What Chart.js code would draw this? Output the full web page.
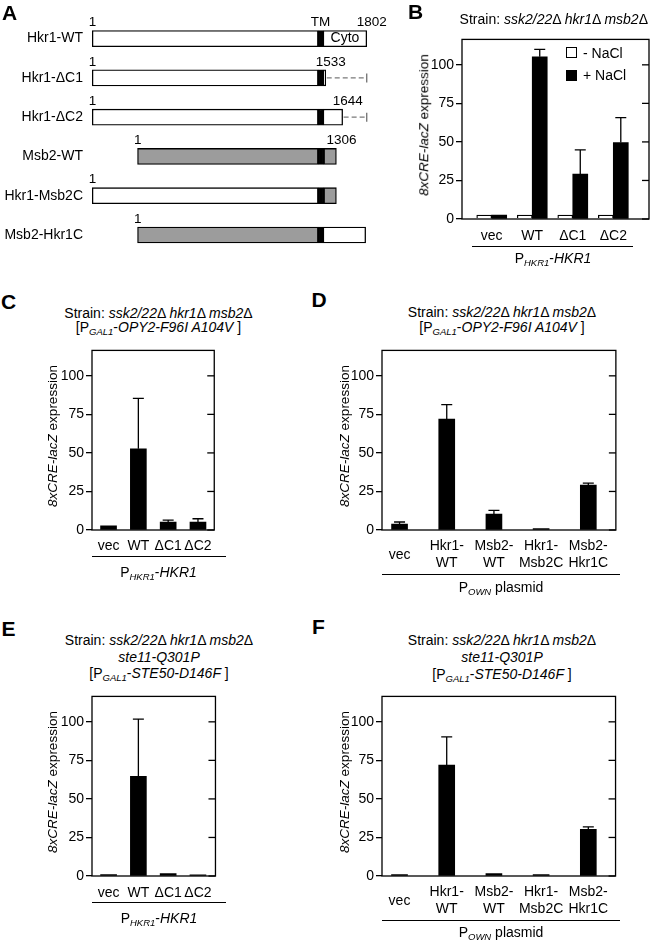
<!DOCTYPE html>
<html>
<head>
<meta charset="utf-8">
<script src="https://cdn.jsdelivr.net/npm/chart.js@4.4.1/dist/chart.umd.min.js"></script>
<style>
  body { margin: 0; background: #fff; }
  #page { position: relative; width: 650px; height: 942px; overflow: hidden; font-family: "Liberation Sans", Arial, Helvetica, sans-serif; color: #000; }
  #page canvas { position: absolute; }
  .t { position: absolute; white-space: nowrap; font-size: 14px; line-height: 1.15; transform: translate(-50%, -50%); }
  .t sub { font-size: 9.5px; font-style: italic; vertical-align: baseline; position: relative; top: 3px; }
  .yt { transform: translate(-50%, -50%) rotate(-90deg); font-size: 13.5px; }
  .letter { font-weight: bold; font-size: 21px; }
  .rule { position: absolute; height: 0; border-top: 1.3px solid #000; }
  .leg { position: absolute; font-size: 14px; line-height: 1.15; transform: translateY(-50%); white-space: nowrap; }
  .sw { position: absolute; width: 11px; height: 11px; box-sizing: border-box; border: 1.3px solid #000; }
</style>
</head>
<body>
<div id="page"></div>
<script>
// ---- data ----
const yTicks = [0, 25, 50, 75, 100];
const yMax = 116.5;

// A: domain map, aligned on the TM (Msb2 residues shifted by 297)
const constructs = ['Hkr1-WT', 'Hkr1-ΔC1', 'Hkr1-ΔC2', 'Msb2-WT', 'Hkr1-Msb2C', 'Msb2-Hkr1C'];
const nSeg  = [[1, 1483], [1, 1483], [1, 1483], [298, 1483], [1, 1483], [298, 1483]];
const tmSeg = [[1483, 1516], [1483, 1516], [1483, 1516], [1483, 1521], [1483, 1521], [1483, 1516]];
const cSeg  = [[1516, 1802], [1516, 1533], [1516, 1644], [1521, 1603], [1521, 1603], [1516, 1795]];
const nOrigin = ['Hkr1', 'Hkr1', 'Hkr1', 'Msb2', 'Hkr1', 'Msb2'];
const cOrigin = ['Hkr1', 'Hkr1', 'Hkr1', 'Msb2', 'Msb2', 'Hkr1'];
const endLabels = ['1802', '1533', '1644', '1306', '', ''];
const deleted = [null, [1533, 1802], [1644, 1802], null, null, null];

// B
const catsB = ['vec', 'WT', 'ΔC1', 'ΔC2'];
const minusNaClB = [2.5, 2.5, 2.5, 2.5];
const plusNaClB = [2.5, 105.2, 29.2, 49.6];
const plusNaClSdB = [0, 4.8, 15.6, 16.1];

// C
const catsC = ['vec', 'WT', 'ΔC1', 'ΔC2'];
const valsC = [2.7, 52.7, 5.2, 5.2];
const sdC = [0, 32.7, 1.2, 2.1];

// D
const catsD = [['vec'], ['Hkr1-', 'WT'], ['Msb2-', 'WT'], ['Hkr1-', 'Msb2C'], ['Msb2-', 'Hkr1C']];
const valsD = [3.8, 71.9, 10.4, 1.0, 29.1];
const sdD = [1.4, 9.4, 2.3, 0, 1.3];

// E
const catsE = ['vec', 'WT', 'ΔC1', 'ΔC2'];
const valsE = [1.0, 64.6, 1.5, 0.8];
const sdE = [0, 37.1, 0, 0];

// F
const catsF = [['vec'], ['Hkr1-', 'WT'], ['Msb2-', 'WT'], ['Hkr1-', 'Msb2C'], ['Msb2-', 'Hkr1C']];
const valsF = [1.0, 71.9, 1.5, 0.9, 30.2];
const sdF = [0, 18.3, 0, 0, 1.7];

// ---- helpers ----
const FONT = '"Liberation Sans", Arial, Helvetica, sans-serif';
Chart.defaults.font.family = FONT;
Chart.defaults.color = '#000';
const page = document.getElementById('page');
const GRAY = '#9c9c9c';

function txt(html, x, y, cls) {
  const d = document.createElement('div');
  d.className = 't' + (cls ? ' ' + cls : '');
  d.style.left = x + 'px';
  d.style.top = y + 'px';
  d.innerHTML = html;
  page.appendChild(d);
  return d;
}
function rule(x1, x2, y) {
  const d = document.createElement('div');
  d.className = 'rule';
  d.style.left = x1 + 'px'; d.style.top = y + 'px'; d.style.width = (x2 - x1) + 'px';
  page.appendChild(d);
}
function canvasAt(l, t, w, h) {
  const cv = document.createElement('canvas');
  cv.width = w; cv.height = h;
  cv.style.left = l + 'px'; cv.style.top = t + 'px';
  cv.style.width = w + 'px'; cv.style.height = h + 'px';
  page.appendChild(cv);
  return cv;
}

// box + inner ticks on the right side
const framePlugin = {
  id: 'frame',
  afterDraw(chart) {
    const { ctx, chartArea: a, scales: { y } } = chart;
    ctx.save();
    ctx.strokeStyle = '#000'; ctx.lineWidth = 1.3;
    ctx.strokeRect(a.left, a.top, a.right - a.left, a.bottom - a.top);
    y.ticks.forEach(t => {
      const py = y.getPixelForValue(t.value);
      ctx.beginPath(); ctx.moveTo(a.right - 7, py); ctx.lineTo(a.right, py); ctx.stroke();
    });
    ctx.restore();
  }
};

// one-sided error bars (sd stored on the dataset)
const errPlugin = {
  id: 'err',
  afterDatasetsDraw(chart) {
    const { ctx, scales: { y } } = chart;
    ctx.save();
    ctx.strokeStyle = '#000'; ctx.lineWidth = 1.3;
    chart.data.datasets.forEach((ds, di) => {
      if (!ds.sd) return;
      chart.getDatasetMeta(di).data.forEach((bar, i) => {
        const s = ds.sd[i];
        if (!s) return;
        const top = y.getPixelForValue(ds.data[i].y + s);
        ctx.beginPath();
        ctx.moveTo(bar.x, bar.y); ctx.lineTo(bar.x, top);
        ctx.moveTo(bar.x - 5.5, top); ctx.lineTo(bar.x + 5.5, top);
        ctx.stroke();
      });
    });
    ctx.restore();
  }
};

function barPanel(frame, cats, datasets, xRange, xh, pad) {
  const AXW = 40, PT = 3, PR = 3;
  const w = AXW + (frame.r - frame.l) + PR;
  const h = PT + (frame.b - frame.t) + xh;
  const cv = canvasAt(frame.l - AXW, frame.t - PT, w, h);
  return new Chart(cv, {
    type: 'bar',
    data: { datasets },
    options: {
      responsive: false, animation: false, devicePixelRatio: 1,
      layout: { padding: { top: PT, right: PR, left: 0, bottom: 0 } },
      plugins: { legend: { display: false }, tooltip: { enabled: false } },
      scales: {
        x: {
          type: 'linear', min: xRange[0], max: xRange[1], offset: false,
          afterFit: s => { s.height = xh; },
          afterBuildTicks: s => { s.ticks = cats.map((c, i) => ({ value: i + 1 })); },
          ticks: {
            callback: v => cats[Math.round(v) - 1],
            font: { size: 14, lineHeight: 1.19 }, color: '#000', padding: pad,
            maxRotation: 0, minRotation: 0, autoSkip: false, crossAlign: 'center'
          },
          grid: { display: false, drawTicks: false },
          border: { display: false }
        },
        y: {
          min: 0, max: yMax,
          afterFit: s => { s.width = AXW; },
          afterBuildTicks: s => { s.ticks = yTicks.map(v => ({ value: v })); },
          ticks: { callback: v => String(v), font: { size: 14 }, color: '#000', padding: 2 },
          grid: { drawOnChartArea: false, drawTicks: true, tickLength: 6, color: '#000', lineWidth: 1.3 },
          border: { display: false }
        }
      }
    },
    plugins: [framePlugin, errPlugin]
  });
}
const pts = vals => vals.map((v, i) => ({ x: i + 1, y: v }));
const blackSet = (vals, sd, thick) => ({ data: pts(vals), sd, backgroundColor: '#000', borderWidth: 0, barThickness: thick });

// ---- panel A ----
const schemePlugin = {
  id: 'scheme',
  afterDatasetsDraw(chart) {
    const { ctx, scales: { x, y } } = chart;
    ctx.save();
    ctx.fillStyle = '#000';
    ctx.font = '13.5px ' + FONT;
    ctx.textBaseline = 'middle';
    constructs.forEach((c, i) => {
      const cy = y.getPixelForValue(i);
      const ly = cy - 16;
      ctx.textAlign = 'left';
      ctx.fillText('1', x.getPixelForValue(nSeg[i][0]) - 3.5, ly);
      if (endLabels[i]) ctx.fillText(endLabels[i], x.getPixelForValue(cSeg[i][1]) - 10, ly);
      if (deleted[i]) {
        const x1 = x.getPixelForValue(deleted[i][0]), x2 = x.getPixelForValue(deleted[i][1]);
        ctx.save();
        ctx.strokeStyle = '#7a7a7a'; ctx.lineWidth = 1.4;
        ctx.setLineDash([5, 3]);
        ctx.beginPath(); ctx.moveTo(x1 + 1, cy); ctx.lineTo(x2, cy); ctx.stroke();
        ctx.setLineDash([]);
        ctx.beginPath(); ctx.moveTo(x2, cy - 4.5); ctx.lineTo(x2, cy + 4.5); ctx.stroke();
        ctx.restore();
      }
    });
    const cy0 = y.getPixelForValue(0);
    ctx.textAlign = 'center';
    ctx.fillText('TM', x.getPixelForValue((tmSeg[0][0] + tmSeg[0][1]) / 2), cy0 - 16);
    ctx.font = '14px ' + FONT;
    ctx.fillText('Cyto', x.getPixelForValue((cSeg[0][0] + cSeg[0][1]) / 2), cy0);
    ctx.restore();
  }
};
const fillOf = o => (o === 'Msb2' ? GRAY : '#fff');
const segSet = (seg, colors) => ({
  data: seg, backgroundColor: colors, borderColor: '#000', borderWidth: 1.3,
  borderSkipped: false, barThickness: 16, grouped: false
});
new Chart(canvasAt(0, 0, 390, 266), {
  type: 'bar',
  data: {
    labels: constructs,
    datasets: [
      segSet(nSeg, nOrigin.map(fillOf)),
      segSet(cSeg, cOrigin.map(fillOf)),
      segSet(tmSeg, constructs.map(() => '#000'))
    ]
  },
  options: {
    indexAxis: 'y', responsive: false, animation: false, devicePixelRatio: 1,
    layout: { padding: { top: 19, bottom: 6, left: 0, right: 0 } },
    plugins: { legend: { display: false }, tooltip: { enabled: false } },
    scales: {
      x: { type: 'linear', min: -40.35, max: 1954.9, display: false },
      y: {
        afterFit: s => { s.width = 86; },
        ticks: { font: { size: 14 }, color: '#000', padding: 3 },
        grid: { display: false, drawTicks: false },
        border: { display: false }
      }
    }
  },
  plugins: [schemePlugin]
});

// ---- panel B ----
barPanel({ l: 462, r: 649, t: 32, b: 219 }, catsB, [
  { data: pts(minusNaClB), backgroundColor: '#fff', borderColor: '#000', borderWidth: 1.3, barThickness: 15 },
  blackSet(plusNaClB, plusNaClSdB, 15)
], [0.267, 4.881], 36, 17);

// ---- panels C-F ----
barPanel({ l: 92, r: 225, t: 343, b: 530 }, catsC, [blackSet(valsC, sdC, 16)], [0.445, 4.546], 36, 16);
barPanel({ l: 382, r: 622, t: 343, b: 530 }, catsD, [blackSet(valsD, sdD, 16)], [0.628, 5.584], 54, 16.5);
barPanel({ l: 92, r: 226, t: 689, b: 876 }, catsE, [blackSet(valsE, sdE, 16)], [0.443, 4.588], 36, 17);
barPanel({ l: 382, r: 622, t: 689, b: 876 }, catsF, [blackSet(valsF, sdF, 16)], [0.629, 5.577], 54, 16.5);

// ---- text ----
const strain = 'Strain: <i>ssk2/22</i>Δ <i>hkr1</i>Δ <i>msb2</i>Δ';
const yTitle = '<i>8xCRE-lacZ</i> expression';
const phkr1 = 'P<sub>HKR1</sub>-<i>HKR1</i>';
const pown = 'P<sub>OWN</sub> plasmid';
const opy2 = '[P<sub>GAL1</sub>-<i>OPY2-F96I A104V</i> ]';
const ste50 = '[P<sub>GAL1</sub>-<i>STE50-D146F</i> ]';
const ste11 = '<i>ste11-Q301P</i>';

txt('A', 9.5, 12.5, 'letter');
txt('B', 415.5, 11.5, 'letter');
txt('C', 8.5, 301.5, 'letter');
txt('D', 319, 299.5, 'letter');
txt('E', 8.5, 628.5, 'letter');
txt('F', 318.5, 627, 'letter');

// B
txt(strain, 553.8, 19);
txt(yTitle, 424, 125, 'yt');
rule(472, 633, 246);
txt(phkr1, 553, 258);
const legItems = [['- NaCl', '#fff', 52.5], ['+ NaCl', '#000', 75]];
legItems.forEach(([label, col, cy]) => {
  const sw = document.createElement('div');
  sw.className = 'sw'; sw.style.left = '566px'; sw.style.top = (cy - 5.5) + 'px'; sw.style.background = col;
  page.appendChild(sw);
  const t = document.createElement('div');
  t.className = 'leg'; t.style.left = '583px'; t.style.top = cy + 'px'; t.textContent = label;
  page.appendChild(t);
});

// C
txt(strain, 158.5, 313);
txt(opy2, 158.5, 327);
txt(yTitle, 53, 436, 'yt');
rule(92, 226, 556);
txt(phkr1, 158.5, 572);

// D
txt(strain, 502, 312);
txt(opy2, 502, 327);
txt(yTitle, 345, 436, 'yt');
rule(382, 620, 573.5);
txt(pown, 501, 587);

// E
txt(strain, 159, 640);
txt(ste11, 159, 656.7);
txt(ste50, 159, 673.3);
txt(yTitle, 53, 782, 'yt');
rule(92, 226, 902.3);
txt(phkr1, 159, 918.3);

// F
txt(strain, 502, 640);
txt(ste11, 502, 656.7);
txt(ste50, 502, 674);
txt(yTitle, 345, 782, 'yt');
rule(382, 620, 920);
txt(pown, 501, 932.3);
</script>
</body>
</html>
